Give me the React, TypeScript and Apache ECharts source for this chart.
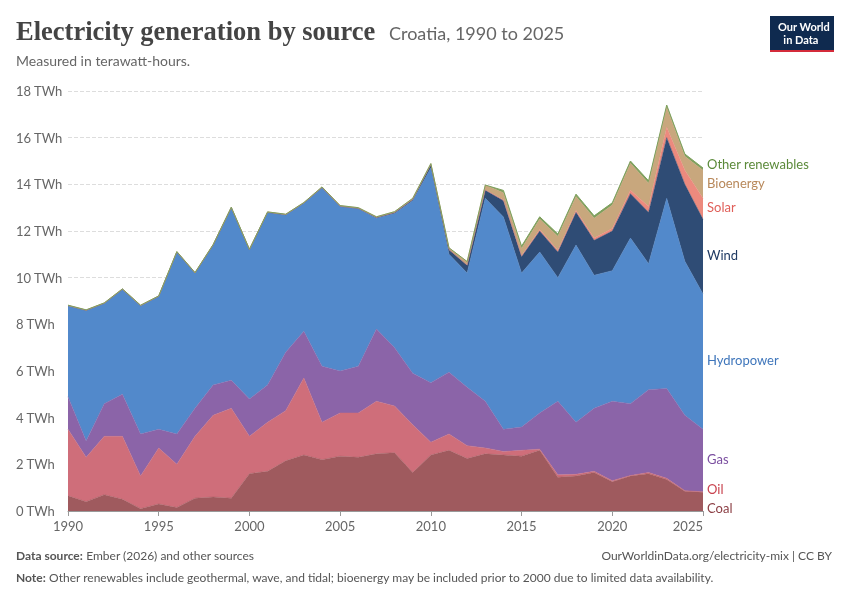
import React, { useEffect, useRef } from "react";
import * as echarts from "echarts";

const years = Array.from({ length: 36 }, (_, i) => String(1990 + i));
const coalTop = [0.65,0.4,0.7,0.5,0.1,0.3,0.15,0.55,0.6,0.55,1.6,1.7,2.15,2.4,2.2,2.35,2.3,2.45,2.5,1.65,2.4,2.6,2.25,2.45,2.4,2.35,2.6,1.45,1.5,1.65,1.25,1.5,1.6,1.35,0.85,0.8];
const oilTop = [3.5,2.3,3.2,3.2,1.5,2.7,2.0,3.2,4.1,4.4,3.2,3.8,4.3,5.7,3.8,4.2,4.2,4.7,4.5,3.7,2.95,3.3,2.8,2.7,2.55,2.6,2.65,1.55,1.57,1.7,1.3,1.52,1.65,1.4,0.87,0.82];
const gasTop = [4.9,3.0,4.6,5.0,3.3,3.5,3.3,4.4,5.4,5.6,4.8,5.4,6.8,7.7,6.2,6.0,6.2,7.8,7.0,5.9,5.5,5.95,5.3,4.7,3.5,3.6,4.2,4.7,3.8,4.4,4.7,4.6,5.2,5.25,4.1,3.5];
const hydroTop = [8.8,8.6,8.9,9.5,8.8,9.2,11.1,10.2,11.4,13.0,11.2,12.8,12.7,13.2,13.85,13.05,12.95,12.55,12.75,13.3,14.7,11.0,10.2,13.4,12.6,10.2,11.1,10.0,11.4,10.1,10.3,11.7,10.6,13.4,10.7,9.3];
const wind = [0,0,0,0,0,0,0,0,0,0,0,0,0,0,0.01,0.01,0.02,0.03,0.04,0.05,0.14,0.2,0.33,0.35,0.7,0.7,0.9,1.1,1.4,1.5,1.7,1.9,2.2,2.6,3.3,3.2];
const solar = [0,0,0,0,0,0,0,0,0,0,0,0,0,0,0,0,0,0,0,0,0,0,0.01,0.02,0.04,0.05,0.06,0.07,0.08,0.1,0.11,0.15,0.25,0.45,0.6,0.9];
const bio = [0.02,0.02,0.02,0.02,0.02,0.02,0.02,0.02,0.02,0.02,0.02,0.02,0.02,0.02,0.03,0.03,0.03,0.03,0.04,0.05,0.05,0.08,0.15,0.2,0.3,0.3,0.45,0.6,0.6,0.85,1.0,1.15,1.0,0.85,0.6,1.2];
const other = [0,0,0,0,0,0,0,0,0,0,0,0,0,0,0,0,0,0,0,0,0,0,0,0,0.1,0.1,0.1,0.1,0.1,0.1,0.1,0.1,0.1,0.1,0.1,0.1];

const diff = (a: number[], b: number[]) => a.map((v, i) => +(v - b[i]).toFixed(3));
const coal = coalTop;
const oil = diff(oilTop, coalTop);
const gas = diff(gasTop, oilTop);
const hydro = diff(hydroTop, gasTop);

const seriesDefs = [
  { name: "Coal", data: coal, color: "#9f5a5e", text: "#8b3e44" },
  { name: "Oil", data: oil, color: "#cf6e7a", text: "#c9434f" },
  { name: "Gas", data: gas, color: "#8b64a8", text: "#7b4fa0" },
  { name: "Hydropower", data: hydro, color: "#5289cb", text: "#3f76bb" },
  { name: "Wind", data: wind, color: "#2f4c75", text: "#1f3a63" },
  { name: "Solar", data: solar, color: "#ec8a7e", text: "#e0605a" },
  { name: "Bioenergy", data: bio, color: "#c8a77d", text: "#b8885a" },
  { name: "Other renewables", data: other, color: "#7ea05d", text: "#5b8a3a" },
];

export default function App() {
  const ref = useRef<HTMLDivElement>(null);
  useEffect(() => {
    const chart = echarts.init(ref.current!, undefined, { renderer: "svg" });
    const font = "Lato, 'Noto Sans', sans-serif";
    chart.setOption({
      animation: false,
      textStyle: { fontFamily: font },
      grid: { left: 68, right: 147, top: 91, bottom: 89 },
      xAxis: {
        type: "category", data: years, boundaryGap: false,
        axisLine: { lineStyle: { color: "#999" } },
        axisTick: { show: true, alignWithLabel: true, interval: (i: number) => (1990 + i) % 5 === 0, lineStyle: { color: "#999" } },
        axisLabel: { color: "#666", fontSize: 13, interval: (i: number) => (1990 + i) % 5 === 0, alignMaxLabel: "right" },
      },
      yAxis: {
        type: "value", min: 0, max: 18, interval: 2,
        axisLabel: { color: "#666", fontSize: 13, formatter: "{value} TWh", align: "left", margin: 52 },
        splitLine: { lineStyle: { type: "dashed", color: "#ddd" } },
      },
      series: seriesDefs.map((s) => ({
        name: s.name, type: "line", stack: "t", data: s.data, symbol: "none",
        lineStyle: { width: s.name === "Other renewables" ? 1 : 0.5, color: s.color },
        areaStyle: { color: s.color, opacity: 1 },
      })),
    });
    const last = years.length - 1;
    let cum = 0;
    const ys: number[] = [];
    seriesDefs.forEach((s) => {
      const mid = cum + s.data[last] / 2;
      cum += s.data[last];
      ys.push(chart.convertToPixel({ yAxisIndex: 0 }, mid) as number);
    });
    ys[0] = 509;
    for (let i = 1; i < ys.length; i++) if (ys[i] > ys[i - 1] - 19) ys[i] = ys[i - 1] - 19;
    const labels = seriesDefs.map((s, i) => ({
      type: "text", left: 707, top: ys[i] - 8,
      style: { text: s.name, fill: s.text, font: `13px ${font}` },
    }));
    chart.setOption({
      graphic: [
        { type: "text", left: 16, top: 17, style: { text: "Electricity generation by source", fill: "#444", font: `bold 26.5px 'Liberation Serif', serif` } },
        { type: "text", left: 389, top: 24, style: { text: "Croatia, 1990 to 2025", fill: "#666", font: `18px ${font}` } },
        { type: "text", left: 16, top: 53, style: { text: "Measured in terawatt-hours.", fill: "#666", font: `14px ${font}` } },
        { type: "rect", left: 770, top: 16, shape: { width: 64, height: 36 }, style: { fill: "#0f2a4f" } },
        { type: "rect", left: 770, top: 50, shape: { width: 64, height: 2 }, style: { fill: "#d42b3a" } },
        { type: "text", left: 778, top: 20, style: { text: "Our World\n  in Data", fill: "#fff", font: `bold 11px ${font}`, lineHeight: 13 } },
        ...labels,
        { type: "text", left: 16, top: 549, style: { rich: { b: { fontWeight: "bold", fill: "#555", fontSize: 12, fontFamily: font }, n: { fill: "#555", fontSize: 12, fontFamily: font } }, text: "{b|Data source:} {n|Ember (2026) and other sources}" } },
        { type: "text", right: 18, top: 549, style: { text: "OurWorldinData.org/electricity-mix | CC BY", fill: "#555", font: `12px ${font}` } },
        { type: "text", left: 16, top: 571, style: { rich: { b: { fontWeight: "bold", fill: "#555", fontSize: 12, fontFamily: font }, n: { fill: "#555", fontSize: 12, fontFamily: font } }, text: "{b|Note:} {n|Other renewables include geothermal, wave, and tidal; bioenergy may be included prior to 2000 due to limited data availability.}" } },
      ],
    });
    return () => chart.dispose();
  }, []);
  return <div ref={ref} style={{ position: "fixed", left: 0, top: 0, width: 850, height: 600 }} />;
}
